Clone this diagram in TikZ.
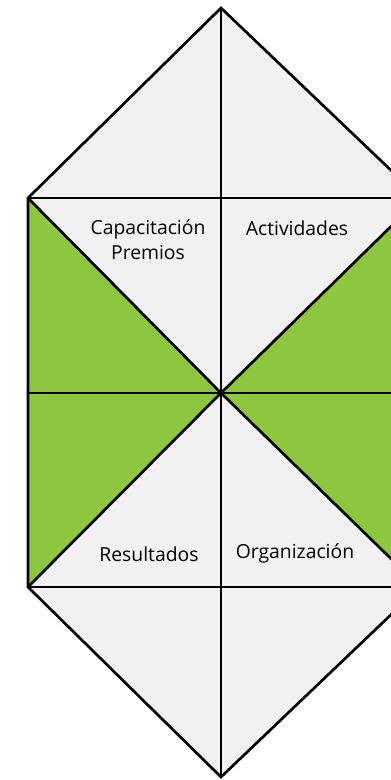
\documentclass[tikz,border=0pt]{standalone}
\usepackage{fontspec}
\setmainfont{Open Sans}
\definecolor{paper}{HTML}{F2F2F2}
\definecolor{leafgreen}{HTML}{8DC63F}

\begin{document}
\begin{tikzpicture}[x=0.75pt,y=-0.75pt,
	edge/.style={draw=black,line width=2pt,line join=miter},
	leaf/.style={fill=leafgreen},
	tag/.style={font=\fontsize{14.5}{19}\selectfont,align=center,inner sep=0pt}
	]
\useasboundingbox (0,0) rectangle (391,780);
\clip (0,0) rectangle (391,780);

% corners of the shape
\coordinate (c) at (221,393);
\coordinate (t) at (221,8);
\coordinate (b) at (221,777);
\coordinate (lt) at (28,198);
\coordinate (lm) at (28,393);
\coordinate (lb) at (28,587);
\coordinate (rt) at (420,198);
\coordinate (rm) at (420,393);
\coordinate (rb) at (420,587);

\fill[paper] (t) -- (rt) -- (rb) -- (b) -- (lb) -- (lt) -- cycle;
\fill[leaf] (lt) -- (c) -- (lb) -- cycle;
\fill[leaf] (rt) -- (c) -- (rb) -- cycle;

\draw[edge] (t) -- (rt) -- (rb) -- (b) -- (lb) -- (lt) -- cycle;
\draw[edge] (lt) -- (rt) (lm) -- (rm) (lb) -- (rb);
\draw[edge] (t) -- (b);
\draw[edge] (lt) -- (c) -- (rb) (rt) -- (c) -- (lb);

\node[tag] (cap) at (148,240) {Capacitación\\Premios};
\node[tag] (act) at (297,228) {Actividades};
\node[tag] (res) at (149,554) {Resultados};
\node[tag] (org) at (295,553) {Organización};
\end{tikzpicture}
\end{document}
